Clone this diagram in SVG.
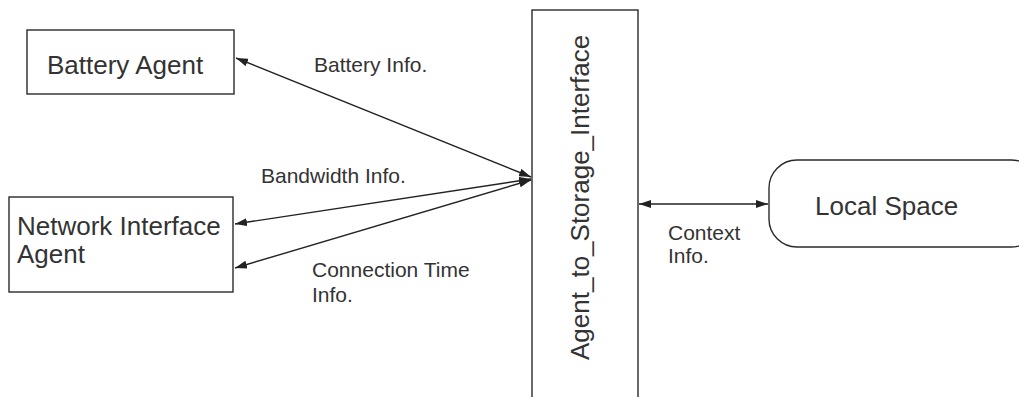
<svg xmlns="http://www.w3.org/2000/svg" width="1019" height="397" viewBox="0 0 1019 397">
<style>
  .box { fill: #fff; stroke: #2a2a2a; stroke-width: 1.4; }
  .node { font-family: "Liberation Sans", Arial, sans-serif; font-size: 26px; fill: #333; }
  .lbl { font-family: "Liberation Sans", Arial, sans-serif; font-size: 21px; fill: #333; }
  .conn { stroke: #222; stroke-width: 1.4; fill: none; marker-start: url(#ah); marker-end: url(#ah); }
</style>
<defs>
  <marker id="ah" viewBox="0 0 12 8" refX="12" refY="4" markerWidth="12" markerHeight="8" markerUnits="userSpaceOnUse" orient="auto-start-reverse">
    <path d="M0,0 L12,4 L0,8 z" fill="#222"/>
  </marker>
</defs>
<rect width="1019" height="397" fill="#fff"/>
<g id="battery-agent">
  <rect class="box" x="27" y="30" width="207" height="64"/>
  <text class="node" x="47" y="74">Battery Agent</text>
</g>
<g id="network-interface-agent">
  <rect class="box" x="9" y="197" width="224" height="95"/>
  <text class="node" x="17" y="235">Network Interface</text>
  <text class="node" x="17" y="263">Agent</text>
</g>
<g id="agent-to-storage-interface">
  <rect class="box" x="532" y="10" width="106" height="400"/>
  <text class="node" transform="translate(589,360) rotate(-90)">Agent_to_Storage_Interface</text>
</g>
<g id="local-space">
  <rect class="box" x="769" y="160" width="270" height="87" rx="28" ry="28"/>
  <text class="node" x="815" y="215">Local Space</text>
</g>
<g id="connectors">
  <line class="conn" x1="236" y1="58" x2="531" y2="177"/>
  <line class="conn" x1="531" y1="179" x2="235" y2="224"/>
  <line class="conn" x1="531" y1="180" x2="235" y2="268"/>
  <line class="conn" x1="639" y1="204" x2="768" y2="204"/>
  <text class="lbl" x="314" y="72">Battery Info.</text>
  <text class="lbl" x="261" y="183">Bandwidth Info.</text>
  <text class="lbl" x="312" y="277">Connection Time</text>
  <text class="lbl" x="312" y="302">Info.</text>
  <text class="lbl" x="668" y="240">Context</text>
  <text class="lbl" x="668" y="263">Info.</text>
</g>
</svg>
